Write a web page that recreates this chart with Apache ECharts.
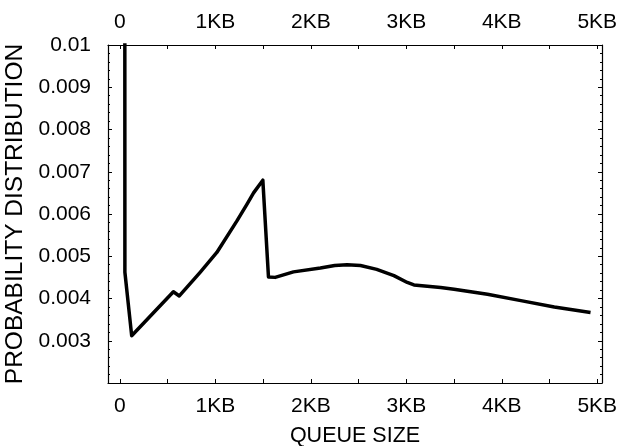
<!DOCTYPE html>
<html>
<head>
<meta charset="utf-8">
<script src="https://cdn.jsdelivr.net/npm/echarts@6/dist/echarts.min.js"></script>
<style>html,body{margin:0;padding:0;background:#fff}#c{width:619px;height:446px}</style>
</head>
<body>
<div id="c"></div>
<script>
// queue size in KB
var queueKB = [0.05, 0.052, 0.123, 0.56, 0.622, 0.84, 1.015, 1.224, 1.33, 1.40, 1.497, 1.556, 1.626, 1.818, 2.10, 2.25, 2.38, 2.52, 2.69, 2.87, 3.01, 3.08, 3.36, 3.50, 3.85, 4.20, 4.55, 4.93];
var probability = [0.02, 0.00462, 0.00312, 0.00416, 0.00406, 0.00462, 0.00509, 0.00583, 0.00623, 0.0065, 0.0068, 0.00451, 0.0045, 0.00463, 0.00472, 0.00478, 0.0048, 0.00478, 0.00469, 0.00454, 0.00438, 0.00432, 0.00426, 0.00422, 0.0041, 0.00395, 0.0038, 0.00367];
var xLabelValues = [0, 1, 2, 3, 4, 5];
var xTickValues = [0, 0.5, 1, 1.5, 2, 2.5, 3, 3.5, 4, 4.5, 5];

var FONT = '"Liberation Sans", Arial, sans-serif';
var data = queueKB.map(function (x, i) { return [x, probability[i]]; });
function xfmt(v) { return v === 0 ? '0' : Math.round(v) + 'KB'; }

function xAxisDef(pos, margin) {
  return {
    type: 'value', min: -0.125, max: 5.05, position: pos,
    axisLine: { show: true, onZero: false, lineStyle: { color: '#000', width: 1.2 } },
    axisTick: { show: true, inside: true, length: 4, customValues: xTickValues, lineStyle: { color: '#000' } },
    axisLabel: { customValues: xLabelValues, formatter: xfmt, color: '#000', fontSize: 21, fontFamily: FONT, margin: margin },
    splitLine: { show: false }
  };
}
function yAxisDef(pos) {
  return {
    type: 'value', min: 0.002, max: 0.01, interval: 0.001, position: pos,
    axisLine: { show: true, onZero: false, lineStyle: { color: '#000', width: 1.2 } },
    axisTick: { show: true, inside: true, length: 4, lineStyle: { color: '#000' } },
    minorTick: { show: true, splitNumber: 5, length: 2, lineStyle: { color: '#000' } },
    splitLine: { show: false },
    axisLabel: { show: pos === 'left', color: '#000', fontSize: 21, fontFamily: FONT, margin: 17,
      formatter: function (v) { return Math.abs(v - 0.002) < 1e-9 ? '' : String(+v.toFixed(4)); } }
  };
}

var xb = xAxisDef('bottom', 13);
xb.name = 'QUEUE SIZE'; xb.nameLocation = 'middle'; xb.nameGap = 42;
xb.nameTextStyle = { color: '#000', fontSize: 21.5, fontFamily: FONT };
var xt = xAxisDef('top', 12);
var yl = yAxisDef('left');
yl.name = 'PROBABILITY DISTRIBUTION'; yl.nameLocation = 'middle'; yl.nameGap = 72; yl.nameRotate = 90;
yl.nameTextStyle = { color: '#000', fontSize: 24.5, fontFamily: FONT };
var yr = yAxisDef('right');

var option = {
  backgroundColor: '#fff',
  animation: false,
  grid: { left: 108, right: 17, top: 45, bottom: 63, containLabel: false, outerBoundsMode: 'none' },
  xAxis: [xb, xt],
  yAxis: [yl, yr],
  series: [{
    type: 'line', xAxisIndex: 0, yAxisIndex: 0, data: data, showSymbol: false, symbol: 'none',
    smooth: false, clip: true,
    lineStyle: { color: '#000', width: 3.5, join: 'round' }
  }]
};
var chart = echarts.init(document.getElementById('c'), null, { renderer: 'canvas' });
chart.setOption(option);
</script>
</body>
</html>
